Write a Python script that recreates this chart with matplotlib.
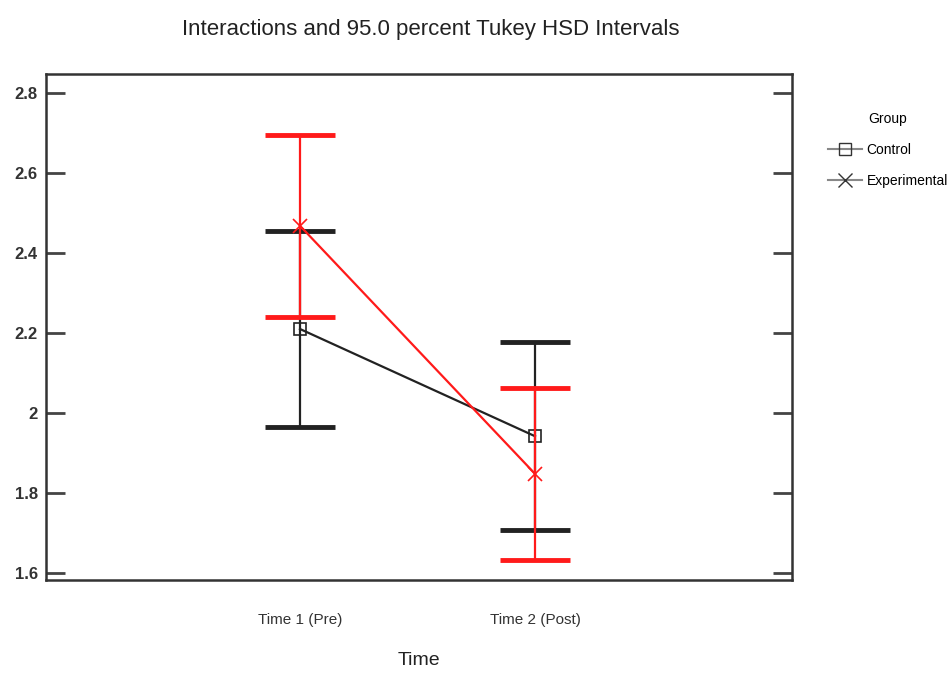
import matplotlib
matplotlib.use("Agg")
import matplotlib.pyplot as plt
from matplotlib.lines import Line2D
from matplotlib import font_manager

names = {f.name for f in font_manager.fontManager.ttflist}
FONT = "Liberation Sans Narrow" if "Liberation Sans Narrow" in names else "Liberation Sans"
plt.rcParams['font.family'] = [FONT, 'DejaVu Sans']

times = ["Time 1 (Pre)", "Time 2 (Post)"]
groups = ["Control", "Experimental"]
control_mean = [2.21, 1.942]
control_lo = [1.965, 1.708]
control_hi = [2.455, 2.177]
exp_mean = [2.468, 1.848]
exp_lo = [2.24, 1.633]
exp_hi = [2.696, 2.062]
yticks = [1.6, 1.8, 2.0, 2.2, 2.4, 2.6, 2.8]
ytick_labels = ["1.6", "1.8", "2", "2.2", "2.4", "2.6", "2.8"]

fig = plt.figure(figsize=(9.5, 6.75), dpi=100)
ax = fig.add_axes([46/950, 1-580/675, (792-46)/950, (580-74)/675])

x = [1, 2]

def draw(mean, lo, hi, color, capcolor, marker, ms, z):
    yerr = [[m - l for m, l in zip(mean, lo)], [h - m for m, h in zip(mean, hi)]]
    eb = ax.errorbar(x, mean, yerr=yerr, fmt='none', ecolor=color, elinewidth=1.6,
                     capsize=25, capthick=3.5, zorder=z)
    for cap in eb[1]:
        cap.set_color(capcolor)
    ax.plot(x, mean, color=color, lw=1.6, marker=marker, ms=ms, mfc='none',
            mec=color, mew=1.2, zorder=z + 0.5)

draw(control_mean, control_lo, control_hi, '#222222', '#222222', 's', 9, 2)
draw(exp_mean, exp_lo, exp_hi, '#ff1a1a', '#ff4545', 'x', 10, 3)

ax.set_xlim(1 - 254/235, 2 + 257/235)
ax.set_ylim(1.5825, 2.8475)
ax.set_yticks(yticks)
ax.set_yticklabels(ytick_labels, fontsize=12, fontweight='bold', color='#333333')
ax.set_xticks(x)
ax.set_xticklabels(times, fontsize=11, color='#333333')
ax.tick_params(axis='y', direction='in', length=14, width=2, color='#444444',
               left=True, right=True, pad=6)
ax.tick_params(axis='x', length=0, pad=24)
for s in ax.spines.values():
    s.set_linewidth(1.8)
    s.set_color('#333333')

ax.set_xlabel("Time", fontsize=14, color='#222222', labelpad=18)
fig.text(431/950, 1-30/675, "Interactions and 95.0 percent Tukey HSD Intervals",
         fontsize=16, ha='center', va='center', color='#222222')

handles = [
    Line2D([], [], color='#888888', lw=1.5, marker='s', ms=9, mfc='none', mec='#333333'),
    Line2D([], [], color='#888888', lw=1.5, marker='x', ms=10, mec='#333333'),
]
leg = fig.legend(handles, groups, title="Group", loc='upper left',
                 bbox_to_anchor=(815/950, 1-100/675), frameon=False,
                 fontsize=10, title_fontsize=10, handlelength=2.5, handletextpad=0.3,
                 labelspacing=1.2)

fig.savefig("out.png", dpi=100)
